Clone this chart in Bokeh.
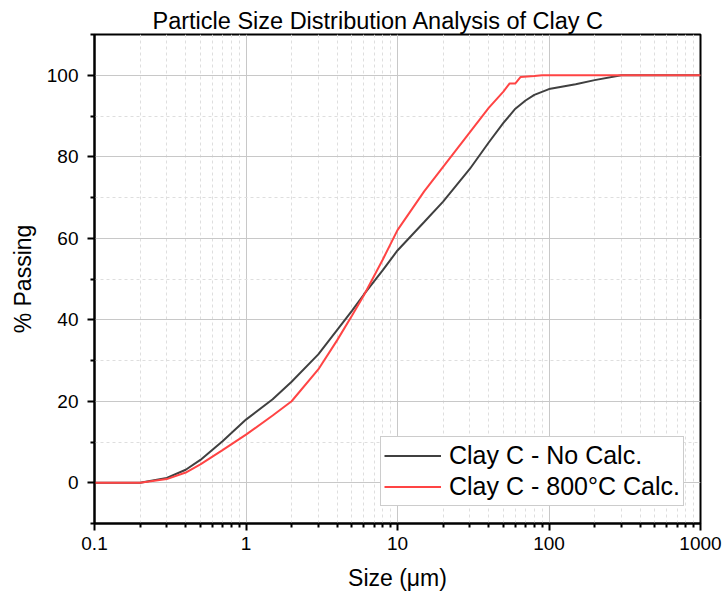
from bokeh.plotting import figure
from bokeh.models import FixedTicker, BasicTickFormatter, Range1d, Legend, LegendItem
from bokeh.embed import file_html
from bokeh.resources import INLINE

# ---- data ----
size_no_calc = [0.1, 0.2, 0.3, 0.4, 0.5, 0.7, 1, 1.5, 2, 3, 4, 5, 6, 8, 10, 15, 20, 30, 40, 50, 60, 70, 80, 100, 150, 200, 300, 500, 1000]
pass_no_calc = [0, 0, 1.2, 3.2, 5.6, 10.2, 15.5, 20.5, 24.8, 31.5, 37.5, 42.2, 46.2, 52.2, 57.0, 64.0, 69.0, 77.0, 83.5, 88.3, 91.8, 93.8, 95.2, 96.6, 97.8, 98.8, 100, 100, 100]

size_800 = [0.1, 0.2, 0.3, 0.4, 0.5, 0.7, 1, 1.5, 2, 3, 4, 5, 6, 8, 10, 15, 20, 30, 40, 50, 55, 60, 65, 80, 90, 100, 200, 500, 1000]
pass_800 = [0, 0, 0.9, 2.5, 4.5, 8.0, 11.8, 16.5, 20.0, 27.8, 35.0, 41.0, 46.0, 54.8, 62.0, 71.5, 77.5, 86.0, 92.0, 96.0, 98.0, 98.0, 99.6, 99.8, 100, 100, 100, 100, 100]

x_major_ticks = [0.1, 1, 10, 100, 1000]
y_major_ticks = [0, 20, 40, 60, 80, 100]
y_minor_ticks = [-10, 10, 30, 50, 70, 90, 110]
x_minor_ticks = [m * d for d in [0.1, 1, 10, 100] for m in range(2, 10)]

FONT = "Liberation Sans"

p = figure(width=726, height=602, x_axis_type="log", output_backend="svg",
           toolbar_location=None, x_range=Range1d(0.1, 1000), y_range=Range1d(-10, 110),
           min_border_left=94, min_border_right=26, min_border_top=34, min_border_bottom=79)

p.title.text = "Particle Size Distribution Analysis of Clay C"
p.title.align = "left"
p.title.offset = 58
p.title.text_font = FONT
p.title.text_font_size = "23.5px"
p.title.text_font_style = "normal"
p.title.text_color = "#000000"
p.title.standoff = 1

r1 = p.line(size_no_calc, pass_no_calc, line_color="#404040", line_width=2)
r2 = p.line(size_800, pass_800, line_color="#ff4444", line_width=2)

p.xaxis.ticker = FixedTicker(ticks=x_major_ticks, minor_ticks=x_minor_ticks)
p.xaxis.formatter = BasicTickFormatter()
p.yaxis.ticker = FixedTicker(ticks=y_major_ticks, minor_ticks=y_minor_ticks)

for ax in (p.xaxis[0], p.yaxis[0]):
    ax.axis_line_color = "black"
    ax.axis_line_width = 2
    ax.major_tick_line_color = "black"
    ax.major_tick_line_width = 2
    ax.major_tick_out = 7
    ax.major_tick_in = 0
    ax.minor_tick_line_color = "black"
    ax.minor_tick_line_width = 2
    ax.minor_tick_out = 4
    ax.minor_tick_in = 0
    ax.major_label_text_font = FONT
    ax.major_label_text_font_size = "19px"
    ax.major_label_text_color = "#000000"
    ax.axis_label_text_font = FONT
    ax.axis_label_text_font_size = "23px"
    ax.axis_label_text_font_style = "normal"
    ax.axis_label_text_color = "#000000"

p.xaxis.axis_label = "Size (μm)"
p.yaxis.axis_label = "% Passing"
p.xaxis.major_label_standoff = 6
p.xaxis.axis_label_standoff = 12
p.yaxis.major_label_standoff = 9
p.yaxis.axis_label_standoff = 8

p.outline_line_color = "black"
p.outline_line_width = 2
p.outline_line_alpha = 1

for g in (p.xgrid[0], p.ygrid[0]):
    g.grid_line_color = "#c8c8c8"
    g.grid_line_width = 1
    g.minor_grid_line_color = "#dedede"
    g.minor_grid_line_dash = "3 3"
    g.minor_grid_line_width = 1

legend = Legend(items=[LegendItem(label="Clay C - No Calc.", renderers=[r1]),
                       LegendItem(label="Clay C - 800°C Calc.", renderers=[r2])],
                location=(286, 17))
legend.label_text_font = FONT
legend.label_text_font_size = "25px"
legend.label_text_color = "#000000"
legend.glyph_width = 57
legend.glyph_height = 31
legend.label_height = 31
legend.spacing = 0
legend.padding = 3
legend.margin = 0
legend.label_standoff = 8
legend.border_line_color = "#9a9a9a"
legend.border_line_width = 1
legend.background_fill_alpha = 1
p.add_layout(legend, "center")

open("out.html", "w").write(file_html(p, INLINE))
